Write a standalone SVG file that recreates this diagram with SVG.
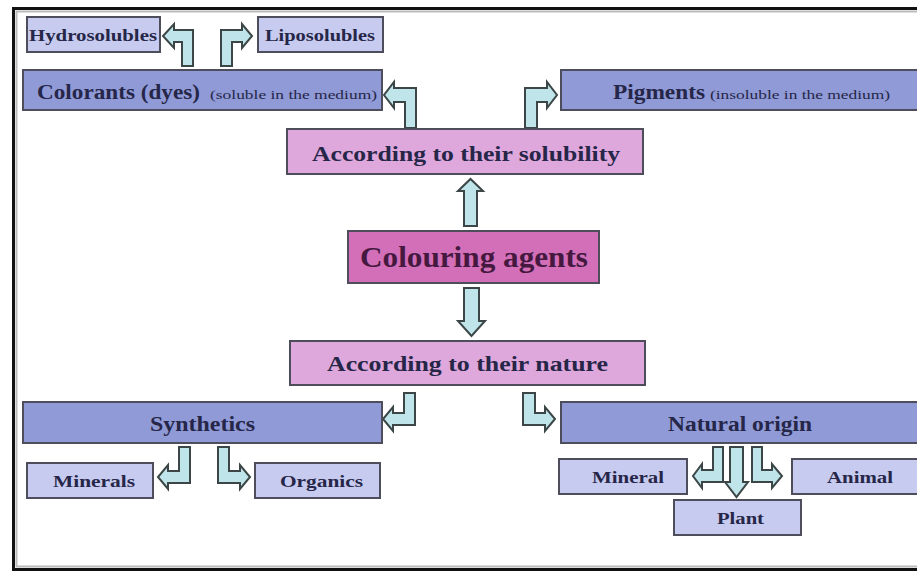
<svg xmlns="http://www.w3.org/2000/svg" width="917" height="574" viewBox="0 0 917 574">
<defs>
<style>
text{font-family:"Liberation Serif","Times New Roman",serif;font-weight:bold;fill:#262648}
.lt{fill:#c7cbef;stroke:#4d4d5c;stroke-width:2}
.dk{fill:#8f9ad7;stroke:#4d4d5c;stroke-width:2}
.pk{fill:#dfa8dd;stroke:#4d4d5c;stroke-width:2}
.pk2{fill:#d36fb8;stroke:#4d4d5c;stroke-width:2}
.ar{fill:#bfe5ea;stroke:#3c4646;stroke-width:2;stroke-linejoin:miter}
.sm{font-weight:normal;font-size:13px}
</style>
</defs>
<rect x="0" y="0" width="917" height="574" fill="#ffffff"/>
<g id="frame">
<path d="M917,8.5 L13.5,8.5 L13.5,569.5 L917,569.5" fill="none" stroke="#111" stroke-width="3"/>
<path d="M917,11.5 L16.5,11.5 L16.5,566.5 L917,566.5" fill="none" stroke="#bbb" stroke-width="2"/>
</g>

<g id="connectors">
<path class="ar" d="M193,66 L193,30 L174,30 L174,24 L163,36 L174,48 L174,42 L182,42 L182,66 Z"/>
<path class="ar" d="M221,66 L221,30 L242,30 L242,24 L252,36 L242,48 L242,42 L232,42 L232,66 Z"/>
<path class="ar" d="M416,128 L416,88 L394,88 L394,82 L384,95 L394,108 L394,102 L405,102 L405,128 Z"/>
<path class="ar" d="M525,128 L525,88 L547,88 L547,82 L557,95 L547,108 L547,102 L537,102 L537,128 Z"/>
<path class="ar" d="M464,226 L464,191 L458,191 L470.5,179 L483,191 L477,191 L477,226 Z"/>
<path class="ar" d="M464,288 L464,321 L458,321 L471.5,336 L485,321 L479,321 L479,288 Z"/>
<path class="ar" d="M415,393 L415,425 L393,425 L393,431 L383,419 L393,407 L393,413 L404,413 L404,393 Z"/>
<path class="ar" d="M523,393 L523,425 L545,425 L545,431 L555,419 L545,407 L545,413 L535,413 L535,393 Z"/>
<path class="ar" d="M190,447 L190,483 L168,483 L168,489 L158,477 L168,465 L168,471 L179,471 L179,447 Z"/>
<path class="ar" d="M218,447 L218,483 L240,483 L240,489 L250,477 L240,465 L240,471 L229,471 L229,447 Z"/>
<path class="ar" d="M723,447 L723,482 L702,482 L702,488 L693,476 L702,464 L702,470 L713,470 L713,447 Z"/>
<path class="ar" d="M730,447 L730,482 L725,482 L736.5,497 L748,482 L743,482 L743,447 Z"/>
<path class="ar" d="M752,447 L752,482 L772,482 L772,488 L782,476 L772,464 L772,470 L762,470 L762,447 Z"/>
</g>

<g id="hydrosolubles">
<rect class="lt" x="27" y="17" width="133" height="35"/>
<text x="29" y="41" font-size="17" textLength="128" lengthAdjust="spacingAndGlyphs">Hydrosolubles</text>
</g>
<g id="liposolubles">
<rect class="lt" x="258" y="17" width="125" height="35"/>
<text x="265" y="41" font-size="17" textLength="110" lengthAdjust="spacingAndGlyphs">Liposolubles</text>
</g>
<g id="colorants">
<rect class="dk" x="23" y="70" width="359" height="40"/>
<text x="37" y="99" font-size="20" textLength="163" lengthAdjust="spacingAndGlyphs">Colorants (dyes)</text>
<text class="sm" x="210" y="99" textLength="167" lengthAdjust="spacingAndGlyphs">(soluble in the medium)</text>
</g>
<g id="pigments">
<rect class="dk" x="561" y="70" width="370" height="40"/>
<text x="613" y="99" font-size="20" textLength="92" lengthAdjust="spacingAndGlyphs">Pigments</text>
<text class="sm" x="710" y="99" textLength="180" lengthAdjust="spacingAndGlyphs">(insoluble in the medium)</text>
</g>
<g id="solubility">
<rect class="pk" x="287" y="129" width="356" height="45"/>
<text x="312" y="161" font-size="21" textLength="308" lengthAdjust="spacingAndGlyphs">According to their solubility</text>
</g>
<g id="colouring-agents">
<rect class="pk2" x="348" y="231" width="251" height="52"/>
<text x="360" y="267" font-size="29" textLength="228" lengthAdjust="spacingAndGlyphs" style="fill:#45193f">Colouring agents</text>
</g>
<g id="nature">
<rect class="pk" x="290" y="341" width="355" height="44"/>
<text x="327" y="371" font-size="21" textLength="281" lengthAdjust="spacingAndGlyphs">According to their nature</text>
</g>
<g id="synthetics">
<rect class="dk" x="23" y="402" width="359" height="41"/>
<text x="150" y="431" font-size="20" textLength="105" lengthAdjust="spacingAndGlyphs">Synthetics</text>
</g>
<g id="minerals">
<rect class="lt" x="27" y="463" width="126" height="35"/>
<text x="53" y="487" font-size="17" textLength="82" lengthAdjust="spacingAndGlyphs">Minerals</text>
</g>
<g id="organics">
<rect class="lt" x="255" y="463" width="125" height="35"/>
<text x="280" y="487" font-size="17" textLength="83" lengthAdjust="spacingAndGlyphs">Organics</text>
</g>
<g id="natural-origin">
<rect class="dk" x="561" y="402" width="370" height="41"/>
<text x="668" y="431" font-size="20" textLength="144" lengthAdjust="spacingAndGlyphs">Natural origin</text>
</g>
<g id="mineral">
<rect class="lt" x="559" y="459" width="128" height="35"/>
<text x="592" y="483" font-size="17" textLength="72" lengthAdjust="spacingAndGlyphs">Mineral</text>
</g>
<g id="animal">
<rect class="lt" x="792" y="459" width="139" height="35"/>
<text x="827" y="483" font-size="17" textLength="66" lengthAdjust="spacingAndGlyphs">Animal</text>
</g>
<g id="plant">
<rect class="lt" x="674" y="500" width="127" height="35"/>
<text x="717" y="524" font-size="17" textLength="47" lengthAdjust="spacingAndGlyphs">Plant</text>
</g>
</svg>
